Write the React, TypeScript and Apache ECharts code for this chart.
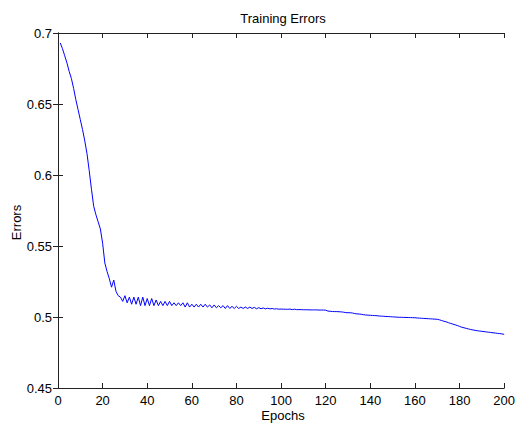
import React, { useEffect, useRef } from "react";
import * as echarts from "echarts";

const titleText = "Training Errors";
const xName = "Epochs";
const yName = "Errors";
const xTicks = [0, 20, 40, 60, 80, 100, 120, 140, 160, 180, 200];
const yTicks = [0.45, 0.5, 0.55, 0.6, 0.65, 0.7];

// training error per epoch (epochs 1..200)
const errors = [
  0.693, 0.689, 0.684, 0.679, 0.673, 0.668, 0.661, 0.653, 0.646, 0.639,
  0.632, 0.624, 0.615, 0.603, 0.590, 0.578, 0.572, 0.567, 0.562, 0.552,
  0.538, 0.532, 0.527, 0.521, 0.526, 0.518, 0.515, 0.514, 0.511, 0.515,
  0.510, 0.514, 0.509, 0.514, 0.509, 0.514, 0.508, 0.514, 0.508, 0.513,
  0.508, 0.513, 0.508, 0.512, 0.508, 0.511, 0.508, 0.511, 0.508, 0.511,
  0.508, 0.510, 0.508, 0.510, 0.508, 0.510, 0.507, 0.510, 0.507, 0.509,
  0.507, 0.509, 0.507, 0.509, 0.507, 0.509, 0.507, 0.5085, 0.5065, 0.5085,
  0.5065, 0.508, 0.5065, 0.508, 0.506, 0.508, 0.506, 0.5075, 0.506, 0.5075,
  0.506, 0.507, 0.506, 0.507, 0.506, 0.507, 0.506, 0.5068, 0.5058, 0.5066,
  0.5058, 0.5064, 0.5057, 0.5062, 0.5057, 0.506, 0.5056, 0.5058, 0.5055, 0.5056,
  0.5055, 0.5055, 0.5054, 0.5056, 0.5052, 0.5055, 0.5052, 0.5052, 0.5052, 0.5051,
  0.5051, 0.5051, 0.505, 0.505, 0.505, 0.505, 0.5049, 0.5049, 0.5049, 0.5048,
  0.5042, 0.5040, 0.5039, 0.5038, 0.5038, 0.5037, 0.5036, 0.5034, 0.5031, 0.5030,
  0.5030, 0.5028, 0.5024, 0.5022, 0.5021, 0.5019, 0.5016, 0.5014, 0.5013, 0.5012,
  0.5011, 0.5010, 0.5009, 0.5007, 0.5006, 0.5005, 0.5004, 0.5003, 0.5002, 0.5001,
  0.5000, 0.4999, 0.4998, 0.4998, 0.4997, 0.4997, 0.4996, 0.4996, 0.4995, 0.4995,
  0.4993, 0.4992, 0.4991, 0.4990, 0.4989, 0.4988, 0.4987, 0.4986, 0.4985, 0.4984,
  0.498, 0.4975, 0.497, 0.4966, 0.496, 0.4955, 0.495, 0.4945, 0.494, 0.4934,
  0.4928, 0.4924, 0.492, 0.4916, 0.4912, 0.4909, 0.4906, 0.4903, 0.4901, 0.4899,
  0.4897, 0.4895, 0.4893, 0.4891, 0.4889, 0.4887, 0.4885, 0.4883, 0.4881, 0.4878,
];

const FONT = "'Liberation Sans', Arial, Helvetica, sans-serif";
const AXIS_COLOR = "#222";

export default function App() {
  const ref = useRef<HTMLDivElement>(null);
  useEffect(() => {
    if (!ref.current) return;
    const chart = echarts.init(ref.current, null, { renderer: "svg" });
    const xMin = xTicks[0];
    const xMax = xTicks[xTicks.length - 1];
    const xInt = xTicks[1] - xTicks[0];
    const yMin = yTicks[0];
    const yMax = yTicks[yTicks.length - 1];
    const yInt = 0.05;
    const tick = { show: true, inside: true, length: 5, lineStyle: { color: AXIS_COLOR, width: 1 } };
    const line = { show: true, lineStyle: { color: AXIS_COLOR, width: 1 } };
    const label = { color: "#000", fontFamily: FONT, fontSize: 13 };
    const left = 58, right = 10, top = 33, bottom = 36;
    const W = 518, H = 424;
    chart.setOption({
      animation: false,
      backgroundColor: "#fff",
      grid: { left, right, top, bottom, containLabel: false },
      xAxis: [
        {
          type: "value", min: xMin, max: xMax, interval: xInt, position: "bottom",
          axisLine: line, axisTick: tick, splitLine: { show: false },
          axisLabel: { ...label, margin: 6 },
        },
        {
          type: "value", min: xMin, max: xMax, interval: xInt, position: "top",
          axisLine: line, axisTick: tick, splitLine: { show: false },
          axisLabel: { show: false },
        },
      ],
      yAxis: [
        {
          type: "value", min: yMin, max: yMax, interval: yInt, position: "left",
          axisLine: line, axisTick: tick, splitLine: { show: false },
          axisLabel: { ...label, margin: 6, formatter: (v: number) => String(Math.round(v * 100) / 100) },
        },
        {
          type: "value", min: yMin, max: yMax, interval: yInt, position: "right",
          axisLine: line, axisTick: tick, splitLine: { show: false },
          axisLabel: { show: false },
        },
      ],
      graphic: [
        {
          type: "text", x: (left + W - right) / 2, y: 18,
          style: { text: titleText, fill: "#000", font: `13px ${FONT}`, textAlign: "center", textVerticalAlign: "middle" },
        },
        {
          type: "text", x: (left + W - right) / 2, y: 415,
          style: { text: xName, fill: "#000", font: `13px ${FONT}`, textAlign: "center", textVerticalAlign: "middle" },
        },
        {
          type: "text", x: 16, y: (top + H - bottom) / 2 + 12, rotation: Math.PI / 2,
          style: { text: yName, fill: "#000", font: `13px ${FONT}`, textAlign: "center", textVerticalAlign: "middle" },
        },
      ],
      series: [
        {
          type: "line",
          xAxisIndex: 0,
          yAxisIndex: 0,
          data: errors.map((v, i) => [i + 1, v]),
          showSymbol: false,
          symbol: "none",
          lineStyle: { color: "#0000ff", width: 1 },
        },
      ],
    });
    return () => chart.dispose();
  }, []);
  return (
    <div
      ref={ref}
      style={{ position: "fixed", left: 0, top: 0, width: 518, height: 424, background: "#fff" }}
    />
  );
}
